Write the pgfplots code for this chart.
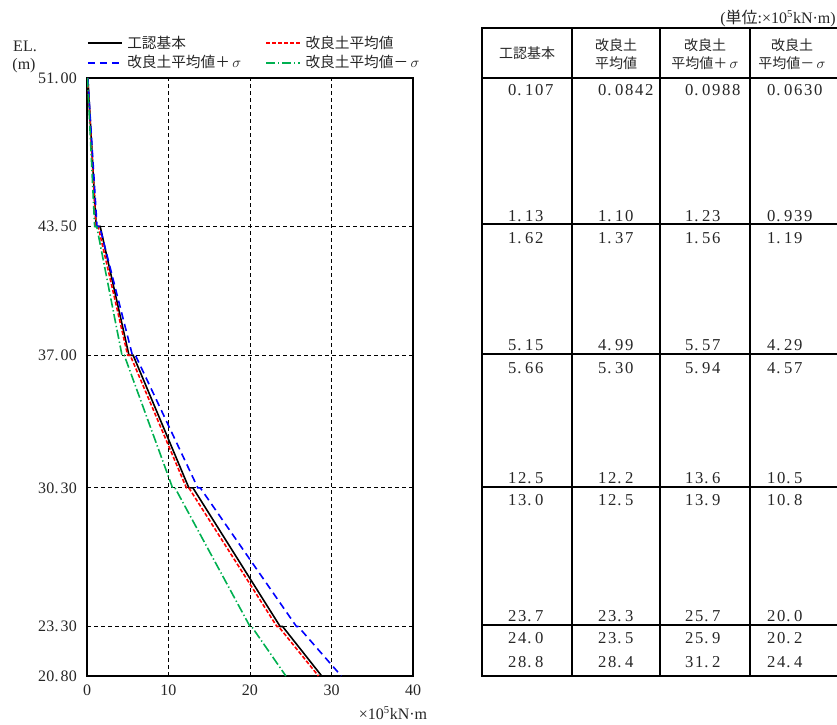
\documentclass[border=0pt]{standalone}
\usepackage{fontspec}
\newfontfamily\cjk{Noto Sans CJK JP}
\newfontfamily\numf{Liberation Serif}
\usepackage{pgfplots}
\pgfplotsset{compat=1.18}
\definecolor{exgreen}{RGB}{0,176,80}
\makeatletter
\newdimen\numpitch \numpitch=7.5pt
\newcommand\Ndig[1]{\@tfor\nn:=#1\do{\if.\nn\makebox[0.7\numpitch][l]{.}\else\makebox[\numpitch]{\nn}\fi}}
\newcommand\TN[1]{\edef\tmpnum{#1}\expandafter\Ndig\expandafter{\tmpnum}}
\newcommand\YT[1]{\numpitch=6.2pt\TN{#1}}
\makeatother
\begin{document}
\begin{tikzpicture}[font=\fontsize{10.5}{12.6}\selectfont]
\useasboundingbox (0,0) rectangle (627.75pt,543pt);
\begin{axis}[
  at={(65.25pt,36pt)}, anchor=south west,
  scale only axis, width=244.5pt, height=448.5pt,
  xmin=0, xmax=40, ymin=20.8, ymax=51,
  xtick={0,10,20,30,40},
  ytick={20.8,23.3,30.3,37,43.5,51},
  yticklabels={\YT{20.80},\YT{23.30},\YT{30.30},\YT{37.00},\YT{43.50},\YT{51.00}},
  /pgf/number format/assume math mode=true,
  major tick length=0pt,
  grid=major,
  major grid style={black, line width=0.6pt, dash pattern=on 3pt off 2.25pt},
  axis line style={black, line width=0.8pt},
  tick label style={font=\numf\fontsize{12}{14}\selectfont, text=black!85},
  yticklabel style={xshift=-4pt},
  xticklabel style={yshift=-3pt},
  legend cell align=left,
  legend columns=2,
  legend image code/.code={\draw[mark repeat=2,mark phase=2,#1] plot coordinates {(0pt,0pt) (12.75pt,0pt) (25.5pt,0pt)};},
  legend style={at={(0,1)}, anchor=south west, yshift=5pt, draw=none, fill=none,
    inner sep=0pt, outer sep=0pt, row sep=2pt,
    nodes={inner sep=1pt, text=black!85},
    font=\fontsize{11}{13}\selectfont,
    /tikz/every odd column/.append style={column sep=2.5pt},
    /tikz/every even column/.append style={column sep=17pt}},
]
\addplot[draw=black, line width=1.2pt] coordinates {
 (0.107,51) (1.13,43.5) (1.62,43.5) (5.15,37) (5.66,37) (12.5,30.3) (13.0,30.3) (23.7,23.3) (24.0,23.3) (28.8,20.8)};
\addlegendentry{{\cjk 工認基本}}
\addplot[draw=red, line width=1.2pt, dash pattern=on 3pt off 1.5pt] coordinates {
 (0.0842,51) (1.10,43.5) (1.37,43.5) (4.99,37) (5.30,37) (12.2,30.3) (12.5,30.3) (23.3,23.3) (23.5,23.3) (28.4,20.8)};
\addlegendentry{{\cjk 改良土平均値}}
\addplot[draw=blue, line width=1.2pt, dash pattern=on 5.5pt off 3.5pt] coordinates {
 (0.0988,51) (1.23,43.5) (1.56,43.5) (5.57,37) (5.94,37) (13.6,30.3) (13.9,30.3) (25.7,23.3) (25.9,23.3) (31.2,20.8)};
\addlegendentry{{\cjk 改良土平均値＋}\,$\sigma$}
\addplot[draw=exgreen, line width=1.2pt, dash pattern=on 7pt off 2pt on 1pt off 2pt] coordinates {
 (0.0630,51) (0.939,43.5) (1.19,43.5) (4.29,37) (4.57,37) (10.5,30.3) (10.8,30.3) (20.0,23.3) (20.2,23.3) (24.4,20.8)};
\addlegendentry{{\cjk 改良土平均値－}\,$\sigma$}
\end{axis}
\begin{scope}[x=0.75pt,y=-0.75pt,shift={(0pt,543pt)},font=\numf\fontsize{12.5}{14}\selectfont]
 % axis labels
 \node[text=black!85, font=\numf\fontsize{12}{14}\selectfont] at (25,46) {EL.};
 \node[text=black!85, font=\numf\fontsize{12}{14}\selectfont] at (24,66) {(m)};
 \node[text=black!85, font=\numf\fontsize{12}{14}\selectfont] at (393,713) {×10\textsuperscript{5}kN·m};
 % table
 \node[anchor=east, inner sep=0pt, text=black!85, font=\numf\fontsize{12}{14}\selectfont] at (836,18) {({\cjk 単位}:×10\textsuperscript{5}kN·m)};
 \draw[line width=1.1pt] (837,28) -- (482,28) -- (482,676) -- (837,676);
 \foreach \y in {78,224,354,487,625} \draw[line width=0.8pt] (482,\y) -- (837,\y);
 \foreach \x in {572,660,750} \draw[line width=0.9pt] (\x,28) -- (\x,676);
 \begin{scope}[font=\fontsize{10.5}{12.6}\selectfont]
 \node[text=black!85] at (527,53) {\cjk 工認基本};
 \node[text=black!85] at (616,45) {\cjk 改良土};
 \node[text=black!85] at (616,63) {\cjk 平均値};
 \node[text=black!85] at (705,45) {\cjk 改良土};
 \node[text=black!85] at (705,63) {{\cjk 平均値＋}\,$\sigma$};
 \node[text=black!85] at (792,45) {\cjk 改良土};
 \node[text=black!85] at (792,63) {{\cjk 平均値－}\,$\sigma$};
 \end{scope}
 \foreach \y/\a/\b/\c/\d in {
   90/0.107/0.0842/0.0988/0.0630,
   216/1.13/1.10/1.23/0.939,
   238/1.62/1.37/1.56/1.19,
   345/5.15/4.99/5.57/4.29,
   368/5.66/5.30/5.94/4.57,
   478/12.5/12.2/13.6/10.5,
   500/13.0/12.5/13.9/10.8,
   616/23.7/23.3/25.7/20.0,
   638/24.0/23.5/25.9/20.2,
   662/28.8/28.4/31.2/24.4} {
   \node[anchor=west, inner sep=0pt, text=black!85] at (507,\y) {\TN{\a}};
   \node[anchor=west, inner sep=0pt, text=black!85] at (597,\y) {\TN{\b}};
   \node[anchor=west, inner sep=0pt, text=black!85] at (684,\y) {\TN{\c}};
   \node[anchor=west, inner sep=0pt, text=black!85] at (766,\y) {\TN{\d}};
 }
\end{scope}
\end{tikzpicture}
\end{document}
